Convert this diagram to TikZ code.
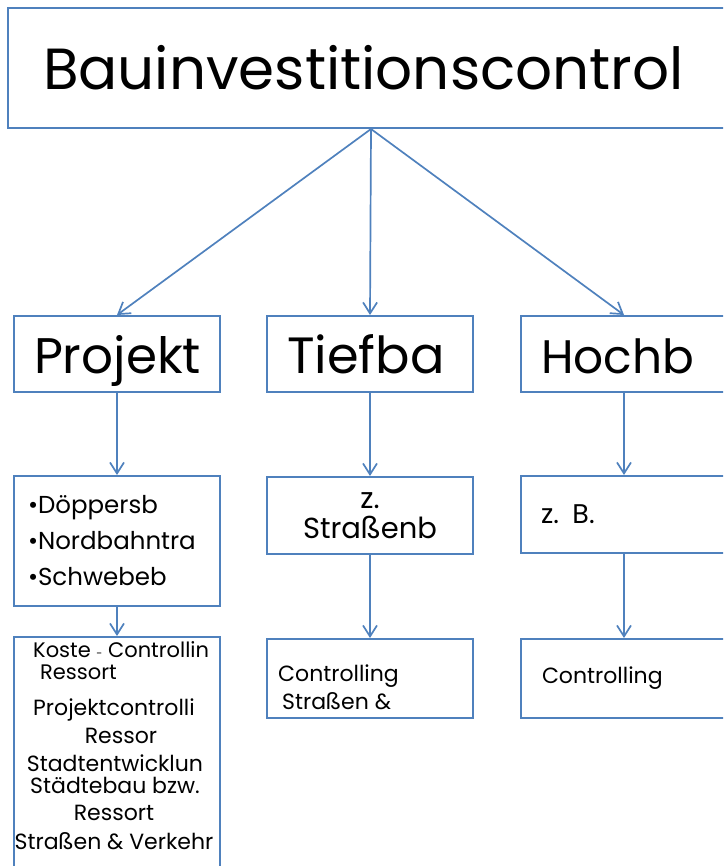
\documentclass[tikz,border=0pt]{standalone}
\usepackage{fontspec}
\setmainfont{Poppins}
\usetikzlibrary{arrows.meta}
\definecolor{bau}{HTML}{4F81BD}
\newcommand{\schrift}[2]{\fontsize{#1}{#2}\selectfont}

\begin{document}
\begin{tikzpicture}[x=1pt, y=-1pt,
        kasten/.style={draw=bau, line width=2pt, rectangle, anchor=north west,
            minimum width=206pt, inner ysep=0pt, inner xsep=20pt,
            text width=166pt, align=left},
        ebene/.style={kasten, minimum height=76pt, text height=44pt, text depth=6pt},
        klein/.style={font={\schrift{22}{22}}},
        pfeil/.style={draw=bau, line width=1.7pt, ->},
        >={Straight Barb[length=11pt, width=14pt, line width=1.7pt]} % Pfeilspitzen
        ]
    \useasboundingbox (0,0) rectangle (723,866);
    \clip (0,0) rectangle (723,866);

    % Kopf
    \node[kasten, minimum width=726pt, minimum height=120pt, inner xsep=35pt,
          text width=656pt, font={\schrift{58}{70}}] (bic) at (7,7) {Bauinvestitionscontrol};

    % erste Ebene
    \node[ebene, font={\schrift{50}{60}}] (proj) at (13,315) {Projekt};
    \node[ebene, font={\schrift{51}{60}}] (tief) at (266,315) {Tiefba};
    \node[ebene, font={\schrift{47}{60}}] (hoch) at (520,315) {Hochb};

    % zweite Ebene
    \node[kasten, minimum height=130pt, inner xsep=14pt, text width=178pt,
          font={\schrift{24.5}{36}}] (liste) at (13,475)
          {•Döppersb\\•Nordbahntra\\•Schwebeb};
    \node[kasten, minimum height=77pt, align=center, font={\schrift{29}{30}}] (strb) at (266,476)
          {z.\hspace*{20pt}\\Straßenb};
    \node[kasten, minimum height=77pt, font={\schrift{27}{30}}] (zb) at (520,475) {z. B.};

    % dritte Ebene
    \node[kasten, minimum height=240pt] (kost) at (13,636) {};
    \node[kasten, minimum height=79pt] (cstr) at (266,638) {};
    \node[kasten, minimum height=79pt, inner xsep=21pt, text width=164pt, klein] (cre) at (520,638)
          {Controlling};

    % Texte im Kasten links unten
    \node[klein, anchor=west, align=left, inner sep=0pt, font={\schrift{21}{22}}] (k1) at (33,661)
          {Koste {\schrift{11}{11}-} Controllin\\\hspace*{7pt}Ressort};
    \node[klein, align=center, inner sep=0pt, font={\schrift{22}{28}}] (k2) at (114,721)
          {Projektcontrolli\\\hspace*{14pt}Ressor};
    \node[klein, align=center, inner sep=0pt] (k3) at (115,774)
          {Stadtentwicklun\\Städtebau bzw.};
    \node[klein, align=center, inner sep=0pt, font={\schrift{22}{29}}] (k4) at (114,827)
          {Ressort\\Straßen \& Verkehr};
    \node[klein, anchor=west, align=left, inner sep=0pt, font={\schrift{22}{28}}] (k5)
          at ([xshift=12pt, yshift=-9pt]cstr.west) {Controlling\\\hspace*{4pt}Straßen \&};

    % Verbindungen
    \foreach \von/\nach in {bic/proj, bic/tief, bic/hoch, proj/liste, liste/kost,
                            tief/strb, strb/cstr, hoch/zb, zb/cre}
        \draw[pfeil] (\von.south) -- (\nach.north);

\end{tikzpicture}
\end{document}
